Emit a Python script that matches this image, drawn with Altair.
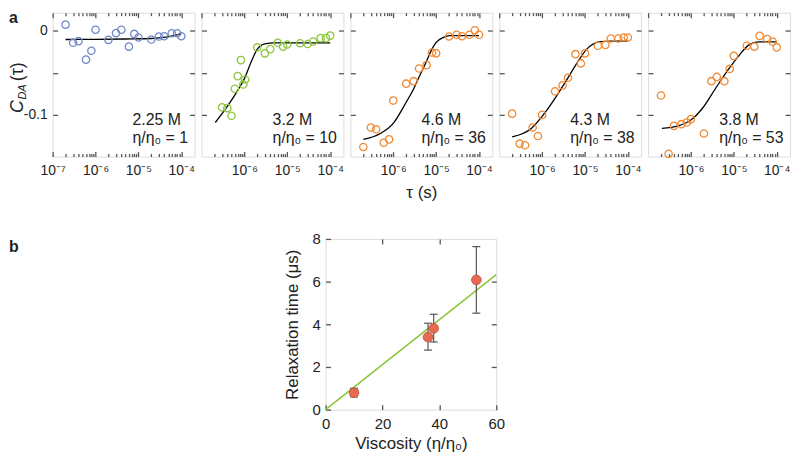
import altair as alt
import pandas as pd

FONT = "Liberation Sans"
TXT = "#222222"
FRAME = "#555555"

# ---------------- panel a data ----------------
TAU_STD = [2e-7, 3e-7, 4e-7, 6e-7, 8e-7, 1e-6, 2e-6, 3e-6, 4e-6, 6e-6, 8e-6,
           1e-5, 2e-5, 3e-5, 4e-5, 6e-5, 8e-5, 1e-4]

P1_TAU = TAU_STD
P1_C = [0.007, -0.0145, -0.0126, -0.0345, -0.024, 0.001, -0.011, -0.003, 0.001,
        -0.019, -0.004, -0.0082, -0.0106, -0.0071, -0.0067, -0.0032, -0.0032, -0.0067]
P1_FIT_TAU = [2e-7, 1e-6, 5e-6, 2e-5, 4.4e-5, 7.4e-5, 1e-4]
P1_FIT_C = [-0.0106, -0.0104, -0.0100, -0.0094, -0.0078, -0.0055, -0.0039]

P2_TAU = [3e-7, 4e-7, 5e-7, 6e-7, 7e-7, 8.3e-7, 9.4e-7, 1.04e-6, 2e-6, 3e-6, 4e-6,
          6e-6, 8e-6, 1e-5, 2e-5, 3e-5, 4e-5, 6e-5, 8e-5, 1e-4]
P2_C = [-0.091, -0.092, -0.101, -0.069, -0.054, -0.035, -0.064, -0.058, -0.020, -0.027,
        -0.022, -0.0145, -0.019, -0.0165, -0.015, -0.016, -0.013, -0.009, -0.009, -0.006]
P2_FIT_TAU = [2.1e-7, 4e-7, 7e-7, 1e-6, 1.5e-6, 2e-6, 3e-6, 5e-6, 1e-5, 1e-4]
P2_FIT_C = [-0.109, -0.090, -0.071, -0.057, -0.035, -0.022, -0.0157, -0.0146, -0.0145, -0.0145]

P3_TAU = TAU_STD
P3_C = [-0.138, -0.115, -0.117, -0.133, -0.129, -0.083, -0.063, -0.060, -0.045, -0.041,
        -0.026, -0.027, -0.007, -0.005, -0.0067, -0.005, 0.0004, -0.005]
P3_FIT_TAU = [2e-7, 5e-7, 1e-6, 2e-6, 3e-6, 4e-6, 6e-6, 8e-6, 1e-5, 1.5e-5, 2e-5, 1e-4]
P3_FIT_C = [-0.129, -0.122, -0.110, -0.085, -0.069, -0.055, -0.036, -0.022, -0.014,
            -0.008, -0.006, -0.006]

P4_TAU = TAU_STD
P4_C = [-0.0985, -0.134, -0.136, -0.115, -0.125, -0.100, -0.072, -0.065, -0.056, -0.028,
        -0.039, -0.027, -0.018, -0.017, -0.0094, -0.0094, -0.0082, -0.0082]
P4_FIT_TAU = [2e-7, 5.6e-7, 1.35e-6, 3.3e-6, 6.6e-6, 1.1e-5, 2.3e-5, 4e-5, 1e-4]
P4_FIT_C = [-0.126, -0.116, -0.093, -0.063, -0.038, -0.022, -0.013, -0.0125, -0.0125]

P5_TAU = TAU_STD
P5_C = [-0.077, -0.146, -0.113, -0.111, -0.109, -0.105, -0.122, -0.060, -0.055, -0.060,
        -0.0455, -0.030, -0.018, -0.019, -0.0063, -0.010, -0.013, -0.020]
P5_FIT_TAU = [2.1e-7, 5e-7, 1e-6, 1.8e-6, 3.7e-6, 7.6e-6, 1.3e-5, 2.2e-5, 3.7e-5, 1e-4]
P5_FIT_C = [-0.116, -0.113, -0.106, -0.093, -0.069, -0.0455, -0.030, -0.0173, -0.0133, -0.0133]

CONC = ["2.25 M", "3.2 M", "4.6 M", "4.3 M", "3.8 M"]
RATIO = ["1", "10", "36", "38", "53"]
COLORS = ["#7189c9", "#8dc63f", "#f08a33", "#f08a33", "#f08a33"]

MAJOR = [1e-7, 1e-6, 1e-5, 1e-4]
MINOR = [m * 10.0 ** e for e in (-7, -6, -5) for m in range(2, 10)]
XLABELS = ["10⁻⁷", "10⁻⁶", "10⁻⁵", "10⁻⁴"]
YTICKS = [0, -0.05, -0.1]

# ---------------- panel b data ----------------
VISC = [10, 36, 38, 53]
RELAX = [0.79, 3.40, 3.81, 6.08]
ERR_LO = [0.60, 2.79, 3.17, 4.52]
ERR_HI = [1.00, 4.05, 4.47, 7.64]
FIT_B_X = [0, 60]
FIT_B_Y = [0, 6.33]

W, H = 143, 145
XDOM = [1e-7, 2.04e-4]
YDOM = [-0.1494, 0.0212]

label_arr = "[" + ",".join("'" + s + "'" for s in XLABELS) + "]"
XLABEL_EXPR = label_arr + "[round(log(datum.value)/LN10)+7]"
YLABEL_EXPR = "datum.value == 0 ? '0' : (datum.value < -0.09 ? '-0.1' : '')"


def ax(orient, values, size, labels=False, **kw):
    base = dict(orient=orient, values=values, tickSize=alt.ExprRef(str(-size)),
                tickColor=FRAME, tickWidth=1.3, domain=False, grid=False,
                labels=labels, labelFont=FONT, labelColor=TXT, labelFlush=False,
                labelOverlap=False, titleFont=FONT, titleColor=TXT,
                titleFontWeight="normal")
    base.update(kw)
    if "title" not in base:
        base["title"] = None
    return alt.Axis(**base)


def make_panel(i, tau, c, ftau, fc):
    pts = pd.DataFrame({"tau": tau, "c": c})
    fit = pd.DataFrame({"tau": ftau, "c": fc})
    xs = alt.Scale(type="log", domain=XDOM, nice=False)
    ys = alt.Scale(domain=YDOM, nice=False, zero=False)
    lab_vals = MAJOR if i == 0 else MAJOR[1:]
    bottom_kw = dict(labelExpr=XLABEL_EXPR, labelFontSize=14, labelPadding=12.3)
    if i == 2:
        bottom_kw.update(title="τ (s)", titleFontSize=17, titlePadding=7.3)
    x_bottom = ax("bottom", lab_vals, 5, labels=True, **bottom_kw)
    y_left = ax("left", YTICKS, 5, labels=(i == 0), labelExpr=YLABEL_EXPR,
                labelFontSize=14, labelPadding=10.5)

    minor_b = alt.Chart(fit).mark_line(opacity=0).encode(
        x=alt.X("tau:Q", scale=xs, axis=ax("bottom", MINOR, 3)),
        y=alt.Y("c:Q", scale=ys, axis=None))
    minor_t = alt.Chart(fit).mark_line(opacity=0).encode(
        x=alt.X("tau:Q", scale=xs, axis=ax("top", MINOR, 3)),
        y=alt.Y("c:Q", scale=ys, axis=None))
    line = alt.Chart(fit).mark_line(color="black", strokeWidth=1.3,
                                    interpolate="monotone").encode(
        x=alt.X("tau:Q", scale=xs, axis=ax("top", MAJOR, 5)),
        y=alt.Y("c:Q", scale=ys, axis=ax("right", YTICKS, 5)))
    points = alt.Chart(pts).mark_point(shape="circle", filled=False, size=55,
                                       strokeWidth=1.3, color=COLORS[i],
                                       opacity=1).encode(
        x=alt.X("tau:Q", scale=xs, axis=x_bottom),
        y=alt.Y("c:Q", scale=ys, axis=y_left))

    nd = len(RATIO[i])
    xl = (W + 1) - 9 - (45.6 + 8.9 * nd)
    t1 = alt.Chart(pd.DataFrame({"t": [CONC[i]]})).mark_text(
        align="left", baseline="alphabetic", font=FONT, fontSize=16, color=TXT).encode(
        text="t:N", x=alt.value(xl), y=alt.value(113))
    t2 = alt.Chart(pd.DataFrame({"t": ["η/η₀ = " + RATIO[i]]})).mark_text(
        align="left", baseline="alphabetic", font=FONT, fontSize=16, color=TXT).encode(
        text="t:N", x=alt.value(xl), y=alt.value(131))
    layers = [minor_b, minor_t, line, points, t1, t2]

    if i == 0:
        def txt(s, x, y, size, style="normal", weight="normal", angle=0):
            kw = dict(align="left", baseline="alphabetic", font=FONT, fontSize=size,
                      fontStyle=style, fontWeight=weight, color=TXT)
            if angle:
                kw["angle"] = angle
            return alt.Chart(pd.DataFrame({"t": [s]})).mark_text(**kw).encode(
                text="t:N", x=alt.value(x), y=alt.value(y))
        layers += [
            txt("a", -44, 10.6, 16, weight="bold"),
            txt("C", -29.5, 101, 18, style="italic", angle=270),
            txt("DA", -27, 87.5, 11, style="italic", angle=270),
            txt("(τ)", -29.5, 69, 18, angle=270),
        ]
    return alt.layer(*layers).resolve_axis(x="independent", y="independent").properties(
        width=W, height=H)


panels = [
    make_panel(0, P1_TAU, P1_C, P1_FIT_TAU, P1_FIT_C),
    make_panel(1, P2_TAU, P2_C, P2_FIT_TAU, P2_FIT_C),
    make_panel(2, P3_TAU, P3_C, P3_FIT_TAU, P3_FIT_C),
    make_panel(3, P4_TAU, P4_C, P4_FIT_TAU, P4_FIT_C),
    make_panel(4, P5_TAU, P5_C, P5_FIT_TAU, P5_FIT_C),
]
row_a = alt.hconcat(*panels, spacing=7, bounds="flush")

# ---------------- panel b ----------------
dfb = pd.DataFrame({"v": VISC, "t": RELAX, "lo": ERR_LO, "hi": ERR_HI})
dff = pd.DataFrame({"v": FIT_B_X, "t": FIT_B_Y})
bx = alt.Scale(domain=[0, 60], nice=False)
by = alt.Scale(domain=[0, 8], nice=False, zero=False)

fit_b = alt.Chart(dff).mark_line(color="#8dc63f", strokeWidth=1.6).encode(
    x=alt.X("v:Q", scale=bx, axis=ax("top", [20, 40], 5)),
    y=alt.Y("t:Q", scale=by, axis=ax("right", [2, 4, 6], 5)))
err = alt.Chart(dfb).mark_rule(color="#555555", strokeWidth=1.2).encode(
    x=alt.X("v:Q", scale=bx,
            axis=ax("bottom", [0, 20, 40, 60], 5, labels=True, labelFontSize=15,
                    labelPadding=12.3, title="Viscosity (η/η₀)", titleFontSize=17,
                    titlePadding=4)),
    y=alt.Y("lo:Q", scale=by,
            axis=ax("left", [0, 2, 4, 6, 8], 5, labels=True, labelFontSize=15,
                    labelPadding=10.3, title="Relaxation time (μs)", titleFontSize=17,
                    titlePadding=11)),
    y2="hi:Q")
cap_lo = alt.Chart(dfb).mark_tick(orient="horizontal", size=8, thickness=1.2,
                                  color="#555555", opacity=1).encode(
    x=alt.X("v:Q", scale=bx, axis=None), y=alt.Y("lo:Q", scale=by, axis=None))
cap_hi = alt.Chart(dfb).mark_tick(orient="horizontal", size=8, thickness=1.2,
                                  color="#555555", opacity=1).encode(
    x=alt.X("v:Q", scale=bx, axis=None), y=alt.Y("hi:Q", scale=by, axis=None))
pts_b = alt.Chart(dfb).mark_circle(size=95, color="#ea6a50", stroke="#b5503c",
                                   strokeWidth=0.8, opacity=1).encode(
    x=alt.X("v:Q", scale=bx, axis=None), y=alt.Y("t:Q", scale=by, axis=None))

panel_b = alt.layer(fit_b, err, cap_lo, cap_hi, pts_b).resolve_axis(
    x="independent", y="independent").properties(width=172, height=172)

spacer = alt.Chart(pd.DataFrame({"t": ["b"]})).mark_text(
    align="left", baseline="alphabetic", font=FONT, fontSize=16, fontWeight="bold",
    color=TXT).encode(text="t:N", x=alt.value(-44), y=alt.value(13)).properties(
    width=275, height=172, view=alt.ViewBackground(strokeOpacity=0))

row_b = alt.hconcat(spacer, panel_b, spacing=0, bounds="flush")

chart = alt.vconcat(row_a, row_b, spacing=29).properties(padding=0).configure_view(
    stroke=FRAME, strokeWidth=1.5).configure(font=FONT)

chart.save("out.html", embed_options={"renderer": "svg", "actions": False})
